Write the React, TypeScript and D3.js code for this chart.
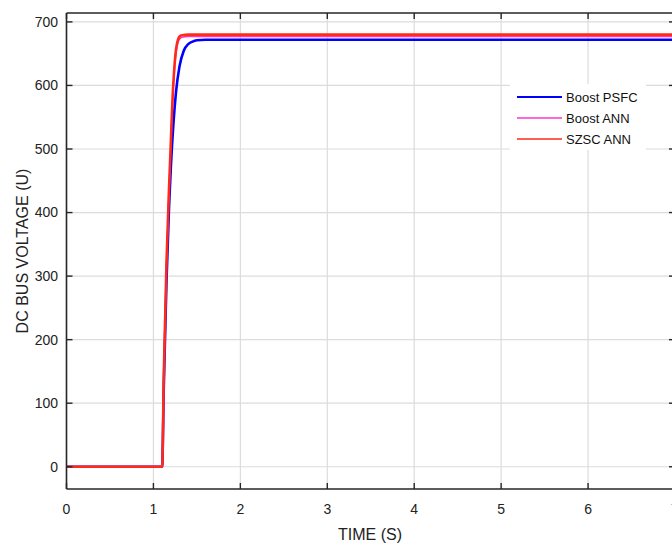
import React from "react";
import * as d3 from "d3";

const xTicks = [0, 1, 2, 3, 4, 5, 6, 7];
const yTicks = [0, 100, 200, 300, 400, 500, 600, 700];

const tBlue = [0, 1.1, 1.12, 1.15, 1.18, 1.2, 1.23, 1.26, 1.3, 1.35, 1.4, 1.45, 1.5, 1.6, 7];
const vBlue = [0, 0, 130, 290, 410, 470, 540, 590, 630, 655, 665, 669, 671, 672, 672];

const tMagenta = [0, 1.1, 1.12, 1.15, 1.18, 1.2, 1.22, 1.24, 1.26, 1.28, 1.3, 1.33, 1.4, 7];
const vMagenta = [0, 0, 145, 315, 435, 505, 575, 620, 650, 666, 673, 676, 677, 677];

const tRed = [0, 1.1, 1.12, 1.15, 1.18, 1.2, 1.22, 1.24, 1.26, 1.28, 1.3, 1.33, 1.4, 7];
const vRed = [0, 0, 150, 320, 440, 510, 580, 627, 657, 671, 677, 679, 680, 680];

const seriesNames = ["Boost PSFC", "Boost ANN", "SZSC ANN"];
const seriesColors = ["#0000ff", "#ff33cc", "#ff2a1a"];

export default function App() {
  const W = 672, H = 543;
  const left = 66.5, right = 675, top = 13, bottom = 489;
  const x = d3.scaleLinear().domain([0, 7]).range([left, right]);
  const y = d3.scaleLinear().domain([-35, 714]).range([bottom, top]);
  const line = d3
    .line<[number, number]>()
    .x((d) => x(d[0]))
    .y((d) => y(d[1]))
    .curve(d3.curveMonotoneX);
  const zip = (t: number[], v: number[]) => t.map((tt, i) => [tt, v[i]] as [number, number]);
  const series = [
    { d: zip(tBlue, vBlue), w: 2.6 },
    { d: zip(tMagenta, vMagenta), w: 1.5 },
    { d: zip(tRed, vRed), w: 2.6 },
  ];
  const font = "'Liberation Sans', Arial, sans-serif";
  const axisColor = "#262626";
  const legX = 510, legY = 84, legW = 136, legH = 66;
  return (
    <svg
      width={W}
      height={H}
      style={{ position: "absolute", left: 0, top: 0, display: "block", background: "#fff" }}
      fontFamily={font}
    >
      <defs>
        <clipPath id="plotclip">
          <rect x={left} y={top} width={right - left} height={bottom - top} />
        </clipPath>
      </defs>
      {/* grid */}
      {xTicks.map((t) => (
        <line key={"gx" + t} x1={x(t)} x2={x(t)} y1={top} y2={bottom} stroke="#dcdcdc" strokeWidth={1.2} />
      ))}
      {yTicks.map((t) => (
        <line key={"gy" + t} x1={left} x2={right} y1={y(t)} y2={y(t)} stroke="#dcdcdc" strokeWidth={1.2} />
      ))}
      {/* lines */}
      <g clipPath="url(#plotclip)">
        {series.map((s, i) => (
          <path key={i} d={line(s.d) || ""} fill="none" stroke={seriesColors[i]} strokeWidth={s.w} strokeLinejoin="round" />
        ))}
      </g>
      {/* legend */}
      <rect x={legX} y={legY} width={legW} height={legH} fill="#fff" />
      {seriesNames.map((n, i) => (
        <g key={n}>
          <line x1={517} x2={562} y1={97 + i * 21} y2={97 + i * 21} stroke={seriesColors[i]} strokeWidth={i === 0 ? 2 : 1.5} />
          <text x={566} y={97 + i * 21} dy="0.35em" fontSize={13} fill="#111">
            {n}
          </text>
        </g>
      ))}
      {/* axes box */}
      <line x1={left} x2={right} y1={bottom} y2={bottom} stroke={axisColor} strokeWidth={1.6} />
      <line x1={left} x2={right} y1={top} y2={top} stroke={axisColor} strokeWidth={1.6} />
      <line x1={left} x2={left} y1={top} y2={bottom} stroke={axisColor} strokeWidth={1.6} />
      <line x1={right} x2={right} y1={top} y2={bottom} stroke={axisColor} strokeWidth={1.6} />
      {xTicks.map((t) => (
        <g key={"tx" + t}>
          <line x1={x(t)} x2={x(t)} y1={bottom} y2={bottom - 6} stroke={axisColor} strokeWidth={1.4} />
          <line x1={x(t)} x2={x(t)} y1={top} y2={top + 6} stroke={axisColor} strokeWidth={1.4} />
          <text x={x(t)} y={509} textAnchor="middle" dy="0.35em" fontSize={14} fill="#222">
            {t}
          </text>
        </g>
      ))}
      {yTicks.map((t) => (
        <g key={"ty" + t}>
          <line x1={left} x2={left + 6} y1={y(t)} y2={y(t)} stroke={axisColor} strokeWidth={1.4} />
          <line x1={right} x2={right - 6} y1={y(t)} y2={y(t)} stroke={axisColor} strokeWidth={1.4} />
          <text x={58} y={y(t)} textAnchor="end" dy="0.35em" fontSize={14} fill="#222">
            {t}
          </text>
        </g>
      ))}
      <text x={370} y={534} textAnchor="middle" dy="0.35em" fontSize={16} fill="#222">
        TIME (S)
      </text>
      <text
        transform={`translate(22, ${251}) rotate(-90)`}
        textAnchor="middle"
        dy="0.35em"
        fontSize={16}
        fill="#222"
      >
        DC BUS VOLTAGE (U)
      </text>
    </svg>
  );
}
